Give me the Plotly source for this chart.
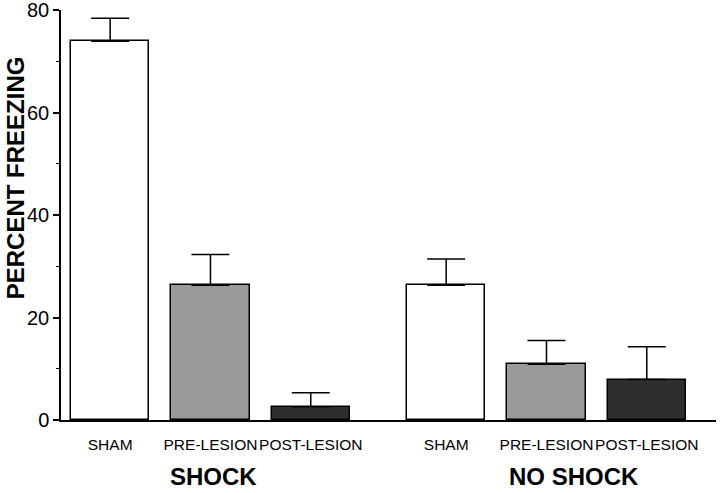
import plotly.graph_objects as go

# 데이터
labels = ["SHAM", "PRE-LESION", "POST-LESION", "SHAM", "PRE-LESION", "POST-LESION"]
positions = [0, 1, 2, 3.35, 4.35, 5.35]
freezing = [73.9, 26.3, 2.6, 26.3, 10.9, 7.9]
sem = [4.5, 6.0, 2.7, 5.1, 4.6, 6.4]
bar_colors = ["#ffffff", "#9a9a9a", "#2e2e2e", "#ffffff", "#9a9a9a", "#2e2e2e"]
groups = ["SHOCK", "NO SHOCK"]
group_x = [1.03, 4.62]
y_ticks = [0, 20, 40, 60, 80]

FONT = "Arial, Liberation Sans, Helvetica, sans-serif"

fig = go.Figure()
fig.add_trace(go.Bar(
    x=positions,
    y=freezing,
    width=0.78,
    marker=dict(color=bar_colors, line=dict(color="black", width=1.5)),
    error_y=dict(type="data", symmetric=False, array=sem,
                 arrayminus=[0] * len(sem), color="black",
                 thickness=1.5, width=19),
    showlegend=False,
))

# 그룹 라벨 (SHOCK / NO SHOCK)
for name, gx in zip(groups, group_x):
    fig.add_annotation(x=gx, y=-0.139, xref="x", yref="paper",
                       yanchor="middle", text=f"<b>{name}</b>",
                       showarrow=False,
                       font=dict(family=FONT, size=24, color="black"))

# y축 제목 (원본처럼 위쪽으로 치우침)
fig.add_annotation(x=-0.07, y=0.59, xref="paper", yref="paper",
                   xanchor="center", yanchor="middle", textangle=-90,
                   text="<b>PERCENT FREEZING</b>", showarrow=False,
                   font=dict(family=FONT, size=24, color="black"))

fig.update_xaxes(
    range=[-0.49, 6.04],
    tickvals=positions, ticktext=labels, tickangle=0,
    tickfont=dict(family=FONT, size=15.5, color="black"),
    ticks="", ticklabelstandoff=10, automargin=False,
    showline=True, linecolor="black", linewidth=1.5,
    showgrid=False, zeroline=False,
)
fig.update_yaxes(
    range=[0, 80.01],
    tickvals=y_ticks, ticklabeloverflow="allow",
    tickfont=dict(family=FONT, size=20, color="black"),
    ticks="outside", ticklen=6, tickwidth=1.5, tickcolor="black",
    minor=dict(dtick=10, ticks="outside", ticklen=3, tickwidth=1.2,
               tickcolor="black"),
    showline=True, linecolor="black", linewidth=1.5,
    showgrid=False, zeroline=False, automargin=False,
)
fig.update_layout(
    width=720, height=493,
    margin=dict(l=61, r=4, t=10, b=73),
    plot_bgcolor="white", paper_bgcolor="white",
    bargap=0,
)
# 브라우저 기본 body 여백 제거
fig.write_html("out.html", config={"displayModeBar": False},
               post_script="document.body.style.margin='0';")
